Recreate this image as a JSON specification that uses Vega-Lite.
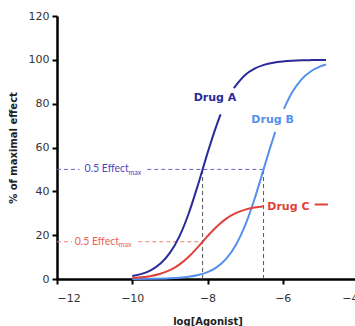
{
  "$schema": "https://vega.github.io/schema/vega-lite/v6.json",
  "width": 301,
  "height": 263,
  "padding": {"left": 8, "top": 10, "right": 0, "bottom": 0},
  "background": "white",
  "config": {
    "view": {"stroke": null},
    "font": "DejaVu Sans",
    "axis": {
      "grid": false,
      "domainColor": "black",
      "domainWidth": 2.5,
      "tickColor": "black",
      "tickWidth": 2,
      "tickSize": 5,
      "labelFont": "DejaVu Sans",
      "labelFontSize": 11,
      "labelColor": "#333333",
      "titleFont": "DejaVu Sans",
      "titleFontSize": 10,
      "titleFontWeight": "bold",
      "titleColor": "#222222"
    }
  },
  "resolve": {"scale": {"color": "independent"}},
  "datasets": {
    "curves": [
      {"drug": "A", "seg": "A1", "x": -10, "y": 1.33},
      {"drug": "A", "seg": "A1", "x": -9.75, "y": 2.34},
      {"drug": "A", "seg": "A1", "x": -9.5, "y": 4.09},
      {"drug": "A", "seg": "A1", "x": -9.25, "y": 7.05},
      {"drug": "A", "seg": "A1", "x": -9.0, "y": 11.89},
      {"drug": "A", "seg": "A1", "x": -8.75, "y": 19.35},
      {"drug": "A", "seg": "A1", "x": -8.5, "y": 29.9},
      {"drug": "A", "seg": "A1", "x": -8.25, "y": 43.14},
      {"drug": "A", "seg": "A1", "x": -8.0, "y": 57.43},
      {"drug": "A", "seg": "A1", "x": -7.75, "y": 70.58},
      {"drug": "A", "seg": "A1", "x": -7.65, "y": 75.13},
      {"drug": "A", "seg": "A2", "x": -7.3, "y": 87.12},
      {"drug": "A", "seg": "A2", "x": -7.0, "y": 93.1},
      {"drug": "A", "seg": "A2", "x": -6.75, "y": 96.0},
      {"drug": "A", "seg": "A2", "x": -6.5, "y": 97.71},
      {"drug": "A", "seg": "A2", "x": -6.25, "y": 98.7},
      {"drug": "A", "seg": "A2", "x": -6.0, "y": 99.26},
      {"drug": "A", "seg": "A2", "x": -5.75, "y": 99.58},
      {"drug": "A", "seg": "A2", "x": -5.5, "y": 99.77},
      {"drug": "A", "seg": "A2", "x": -5.25, "y": 99.87},
      {"drug": "A", "seg": "A2", "x": -5.0, "y": 99.93},
      {"drug": "A", "seg": "A2", "x": -4.85, "y": 99.94},
      {"drug": "B", "seg": "B1", "x": -10, "y": 0.03},
      {"drug": "B", "seg": "B1", "x": -9.5, "y": 0.1},
      {"drug": "B", "seg": "B1", "x": -9.0, "y": 0.32},
      {"drug": "B", "seg": "B1", "x": -8.75, "y": 0.57},
      {"drug": "B", "seg": "B1", "x": -8.5, "y": 1.01},
      {"drug": "B", "seg": "B1", "x": -8.25, "y": 1.79},
      {"drug": "B", "seg": "B1", "x": -8.0, "y": 3.14},
      {"drug": "B", "seg": "B1", "x": -7.75, "y": 5.44},
      {"drug": "B", "seg": "B1", "x": -7.5, "y": 9.28},
      {"drug": "B", "seg": "B1", "x": -7.25, "y": 15.4},
      {"drug": "B", "seg": "B1", "x": -7.0, "y": 24.45},
      {"drug": "B", "seg": "B1", "x": -6.75, "y": 36.52},
      {"drug": "B", "seg": "B1", "x": -6.5, "y": 50.58},
      {"drug": "B", "seg": "B1", "x": -6.35, "y": 59.1},
      {"drug": "B", "seg": "B1", "x": -6.2, "y": 67.12},
      {"drug": "B", "seg": "B2", "x": -5.97, "y": 77.62},
      {"drug": "B", "seg": "B2", "x": -5.75, "y": 85.19},
      {"drug": "B", "seg": "B2", "x": -5.5, "y": 91.1},
      {"drug": "B", "seg": "B2", "x": -5.25, "y": 94.79},
      {"drug": "B", "seg": "B2", "x": -5.0, "y": 97.0},
      {"drug": "B", "seg": "B2", "x": -4.85, "y": 97.86},
      {"drug": "C", "seg": "C1", "x": -10, "y": 0.45},
      {"drug": "C", "seg": "C1", "x": -9.75, "y": 0.8},
      {"drug": "C", "seg": "C1", "x": -9.5, "y": 1.39},
      {"drug": "C", "seg": "C1", "x": -9.25, "y": 2.4},
      {"drug": "C", "seg": "C1", "x": -9.0, "y": 4.04},
      {"drug": "C", "seg": "C1", "x": -8.75, "y": 6.58},
      {"drug": "C", "seg": "C1", "x": -8.5, "y": 10.17},
      {"drug": "C", "seg": "C1", "x": -8.25, "y": 14.67},
      {"drug": "C", "seg": "C1", "x": -8.0, "y": 19.53},
      {"drug": "C", "seg": "C1", "x": -7.75, "y": 24.0},
      {"drug": "C", "seg": "C1", "x": -7.5, "y": 27.54},
      {"drug": "C", "seg": "C1", "x": -7.25, "y": 30.04},
      {"drug": "C", "seg": "C1", "x": -7.0, "y": 31.65},
      {"drug": "C", "seg": "C1", "x": -6.75, "y": 32.64},
      {"drug": "C", "seg": "C1", "x": -6.5, "y": 33.22},
      {"drug": "C", "seg": "C2", "x": -5.15, "y": 33.97},
      {"drug": "C", "seg": "C2", "x": -4.8, "y": 33.98}
    ],
    "rules": [
      {"kind": "blue", "x": -12, "x2": -11.4, "y": 50, "y2": 50},
      {"kind": "blue", "x": -9.6, "x2": -6.51, "y": 50, "y2": 50},
      {"kind": "red", "x": -12, "x2": -11.6, "y": 17, "y2": 17},
      {"kind": "red", "x": -9.84, "x2": -8.13, "y": 17, "y2": 17},
      {"kind": "gray", "x": -8.13, "x2": -8.13, "y": 0, "y2": 50},
      {"kind": "gray", "x": -6.51, "x2": -6.51, "y": 0, "y2": 50}
    ],
    "labels": [
      {"drug": "A", "text": "Drug A", "x": -7.8, "y": 82.6},
      {"drug": "B", "text": "Drug B", "x": -6.27, "y": 72.6},
      {"drug": "C", "text": "Drug C", "x": -5.85, "y": 33}
    ],
    "effect": [
      {"kind": "blue", "x": -11.27, "y": 50},
      {"kind": "red", "x": -11.53, "y": 17}
    ]
  },
  "encoding": {
    "x": {
      "type": "quantitative",
      "scale": {"domain": [-12, -4], "nice": false, "zero": false},
      "axis": {"values": [-12, -10, -8, -6, -4], "title": "log[Agonist]", "titlePadding": 13, "labelPadding": 8}
    },
    "y": {
      "type": "quantitative",
      "scale": {"domain": [0, 120], "nice": false},
      "axis": {"values": [0, 20, 40, 60, 80, 100, 120], "title": "% of maximal effect", "titlePadding": 10, "labelPadding": 3}
    }
  },
  "layer": [
    {
      "data": {"name": "rules"},
      "mark": {"type": "rule", "strokeDash": [4, 3], "strokeWidth": 1},
      "encoding": {
        "x": {"field": "x", "type": "quantitative"},
        "x2": {"field": "x2"},
        "y": {"field": "y", "type": "quantitative"},
        "y2": {"field": "y2"},
        "color": {"field": "kind", "type": "nominal", "scale": {"domain": ["blue", "red", "gray"], "range": ["#6666cc", "#f27b73", "#555555"]}, "legend": null}
      }
    },
    {
      "data": {"name": "curves"},
      "mark": {"type": "line", "interpolate": "monotone", "strokeWidth": 2},
      "encoding": {
        "x": {"field": "x", "type": "quantitative"},
        "y": {"field": "y", "type": "quantitative"},
        "detail": {"field": "seg"},
        "color": {"field": "drug", "type": "nominal", "scale": {"domain": ["A", "B", "C"], "range": ["#2a2a98", "#5590ee", "#e2403a"]}, "legend": null}
      }
    },
    {
      "data": {"name": "labels"},
      "mark": {"type": "text", "fontWeight": "bold", "fontSize": 11, "align": "center", "baseline": "middle"},
      "encoding": {
        "x": {"field": "x", "type": "quantitative"},
        "y": {"field": "y", "type": "quantitative"},
        "text": {"field": "text"},
        "color": {"field": "drug", "type": "nominal", "scale": {"domain": ["A", "B", "C"], "range": ["#2a2a98", "#5590ee", "#e2403a"]}, "legend": null}
      }
    },
    {
      "data": {"name": "effect"},
      "mark": {"type": "text", "fontSize": 10.5, "align": "left", "baseline": "middle", "font": "Lato"},
      "encoding": {
        "x": {"field": "x", "type": "quantitative"},
        "y": {"field": "y", "type": "quantitative"},
        "text": {"value": "0.5 Effect"},
        "color": {"field": "kind", "type": "nominal", "scale": {"domain": ["blue", "red"], "range": ["#4a4ab8", "#f0605a"]}, "legend": null}
      }
    },
    {
      "data": {"name": "effect"},
      "mark": {"type": "text", "fontSize": 7, "align": "left", "baseline": "middle", "dx": 44, "dy": 3.5, "font": "Lato"},
      "encoding": {
        "x": {"field": "x", "type": "quantitative"},
        "y": {"field": "y", "type": "quantitative"},
        "text": {"value": "max"},
        "color": {"field": "kind", "type": "nominal", "scale": {"domain": ["blue", "red"], "range": ["#4a4ab8", "#f0605a"]}, "legend": null}
      }
    }
  ]
}
